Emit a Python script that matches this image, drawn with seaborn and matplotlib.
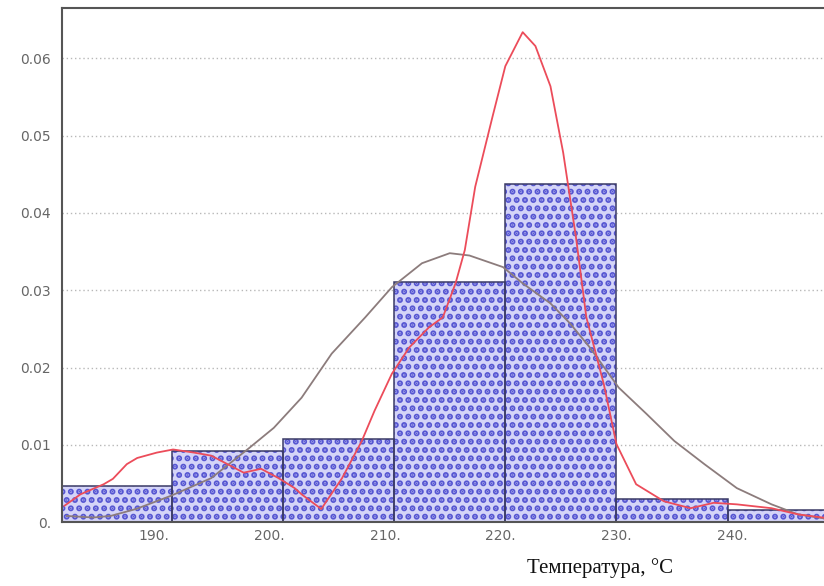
import numpy as np
import pandas as pd
import matplotlib
matplotlib.use("Agg")
import matplotlib.pyplot as plt
import seaborn as sns

# histogram bins (temperature, density)
bin_edges = [182.0, 191.6, 201.2, 210.8, 220.4, 230.0, 239.6, 249.2]
bin_heights = [0.0047, 0.0092, 0.0108, 0.0311, 0.0438, 0.0030, 0.0016]

# fitted normal curve (grey)
norm_x = [182.5, 184.8, 186.3, 188.5, 191.5, 195.0, 198.2, 200.4, 202.8, 205.4, 208.3,
          210.6, 213.2, 215.6, 217.3, 220.2, 221.9, 224.3, 226.0, 227.7, 230.2,
          232.6, 235.0, 237.6, 240.4, 243.4, 245.7, 248.3]
norm_y = [0.0008, 0.0006, 0.0008, 0.0017, 0.0034, 0.0057, 0.0095, 0.0122, 0.0161, 0.0218, 0.0265,
          0.0304, 0.0335, 0.0348, 0.0345, 0.0330, 0.0309, 0.0283, 0.0257, 0.0226, 0.0174,
          0.0140, 0.0105, 0.0075, 0.0044, 0.0023, 0.0010, 0.0004]

# kernel density curve (red)
kde_x = [182.3, 183.7, 185.7, 186.5, 187.7, 188.6, 190.3, 191.7, 193.5, 195.0,
         196.4, 197.8, 199.3, 200.8, 202.2, 202.8, 204.5, 206.3, 208.0, 209.1,
         210.6, 212.1, 213.8, 215.0, 216.1, 216.9, 217.8, 219.3, 220.4, 221.9,
         223.0, 224.3, 225.4, 226.5, 227.4, 228.9, 230.0, 231.7, 234.1, 236.4,
         238.4, 240.4, 243.4, 245.7, 248.3]
kde_y = [0.0021, 0.0036, 0.0049, 0.0056, 0.0075, 0.0083, 0.0090, 0.0094, 0.0090, 0.0086,
         0.0075, 0.0064, 0.0069, 0.0057, 0.0044, 0.0036, 0.0017, 0.0057, 0.0105, 0.0144,
         0.0192, 0.0226, 0.0252, 0.0265, 0.0309, 0.0352, 0.0434, 0.0525, 0.0590, 0.0634,
         0.0616, 0.0564, 0.0478, 0.0369, 0.0265, 0.0179, 0.0101, 0.0049, 0.0027, 0.0018,
         0.0025, 0.0023, 0.0018, 0.0010, 0.0005]

y_ticks = [0.0, 0.01, 0.02, 0.03, 0.04, 0.05, 0.06]
y_labels = ["0.", "0.01", "0.02", "0.03", "0.04", "0.05", "0.06"]
x_ticks = [190, 200, 210, 220, 230, 240]
x_labels = ["190.", "200.", "210.", "220.", "230.", "240."]

sns.set_style("white")
plt.rcParams["hatch.linewidth"] = 3.0

fig = plt.figure(figsize=(8.24, 5.86), dpi=100)
ax = fig.add_axes([0.0752, 0.109, 0.93, 0.877])

centers = [(a + b) / 2 for a, b in zip(bin_edges[:-1], bin_edges[1:])]
hist = pd.DataFrame({"temp": centers, "dens": bin_heights})

# hatched fill
sns.histplot(data=hist, x="temp", weights="dens", bins=bin_edges, stat="count",
             ax=ax, color="#d4d4f8", alpha=1, edgecolor="#5656d2", linewidth=0, hatch="..")
# outlines
sns.histplot(data=hist, x="temp", weights="dens", bins=bin_edges, stat="count",
             ax=ax, fill=False, color="#3a3a66", linewidth=1.1)

sns.lineplot(x=norm_x, y=norm_y, ax=ax, color="#8c7c7c", linewidth=1.3, estimator=None)
sns.lineplot(x=kde_x, y=kde_y, ax=ax, color="#ec4c5a", linewidth=1.3, estimator=None)

ax.set_xlim(182.1, 248.3)
ax.set_ylim(0, 0.0665)
ax.set_xticks(x_ticks)
ax.set_xticklabels(x_labels)
ax.set_yticks(y_ticks)
ax.set_yticklabels(y_labels)
ax.set_xlabel("")
ax.set_ylabel("")

for y in y_ticks[1:]:
    ax.axhline(y, color="#b8b8b8", linestyle=(0, (1, 2)), linewidth=1.0, zorder=0.5)

ax.tick_params(axis="x", direction="in", length=3, width=1.8, color="#1a1a4a",
               labelsize=10, labelcolor="#666666", pad=5)
ax.tick_params(axis="y", length=0, labelsize=10, labelcolor="#666666", pad=8)

for side in ["left", "top", "bottom"]:
    ax.spines[side].set_color("#555555")
    ax.spines[side].set_linewidth(1.5)
ax.spines["right"].set_visible(False)

fig.text(0.728, 0.03, "Температура, °C", fontsize=15, family="Liberation Serif",
         ha="center", va="center", color="#111111")

fig.savefig("out.png", dpi=100)
